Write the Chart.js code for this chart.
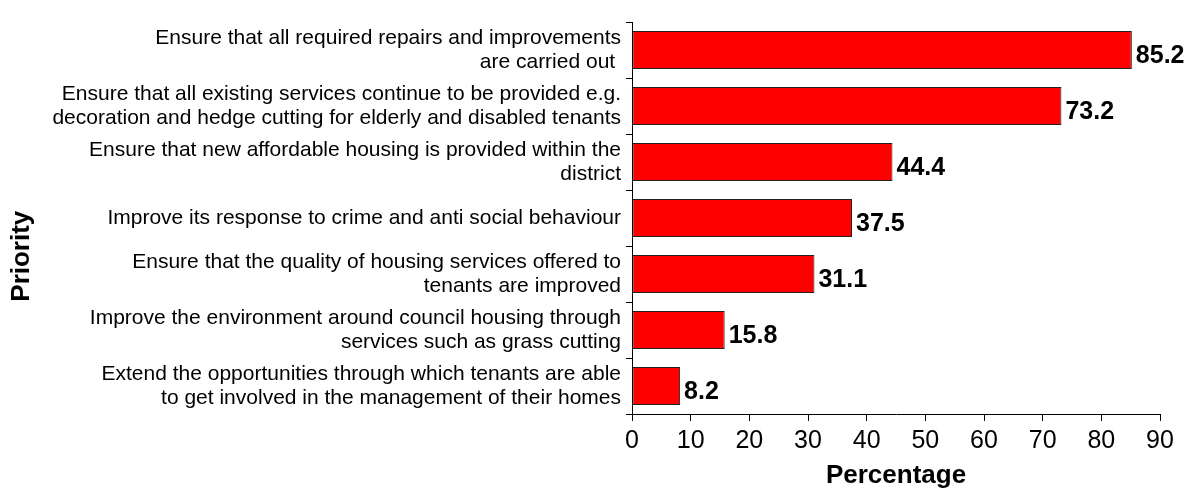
<!DOCTYPE html>
<html>
<head>
<meta charset="utf-8">
<script src="https://cdn.jsdelivr.net/npm/chart.js@4/dist/chart.umd.min.js"></script>
<style>
  html, body { margin: 0; padding: 0; background: #fff; }
  #wrap { width: 1200px; height: 488px; position: relative; }
</style>
</head>
<body>
<div id="wrap"><canvas id="bar-1"></canvas></div>
<script>
// priorities, top to bottom
var priorities = [
	["Ensure that all required repairs and improvements", "are carried out "],
	["Ensure that all existing services continue to be provided e.g.", "decoration and hedge cutting for elderly and disabled tenants"],
	["Ensure that new affordable housing is provided within the", "district"],
	"Improve its response to crime and anti social behaviour",
	["Ensure that the quality of housing services offered to", "tenants are improved"],
	["Improve the environment around council housing through", "services such as grass cutting"],
	["Extend the opportunities through which tenants are able", "to get involved in the management of their homes"]
];
var percentages = [85.2, 73.2, 44.4, 37.5, 31.1, 15.8, 8.2];
var xTicks = [0, 10, 20, 30, 40, 50, 60, 70, 80, 90];

var FONT = "Arial, 'Liberation Sans', sans-serif";

// value labels next to the bar ends
var valueLabels = {
	id: 'valueLabels',
	afterDatasetsDraw: function (chart) {
		var ctx = chart.ctx;
		var meta = chart.getDatasetMeta(0);
		ctx.save();
		ctx.font = "bold 25px " + FONT;
		ctx.fillStyle = '#000';
		ctx.textAlign = 'left';
		ctx.textBaseline = 'middle';
		meta.data.forEach(function (bar, i) {
			ctx.fillText(percentages[i].toFixed(1), bar.x + 4, bar.y + 6);
		});
		ctx.restore();
	}
};

// rotated y title, drawn in the left margin like the original
var yTitle = {
	id: 'yTitle',
	afterDraw: function (chart) {
		var ctx = chart.ctx;
		ctx.save();
		ctx.font = "bold 26px " + FONT;
		ctx.fillStyle = '#000';
		ctx.textAlign = 'center';
		ctx.textBaseline = 'middle';
		ctx.translate(22, chart.height * 0.525);
		ctx.rotate(-Math.PI / 2);
		ctx.fillText('Priority', 0, 0);
		ctx.restore();
	}
};

var ctx1 = document.getElementById("bar-1");
var barchart1 = new Chart(ctx1, {
	type: 'bar',
	data: {
		labels: priorities,
		datasets: [{
			label: 'Percentage',
			data: percentages,
			backgroundColor: '#FF0000',
			borderColor: '#222',
			borderWidth: 1,
			borderSkipped: false,
			barPercentage: 0.675,
			categoryPercentage: 1
		}]
	},
	options: {
		indexAxis: 'y',
		responsive: true,
		maintainAspectRatio: false,
		animation: false,
		layout: { padding: { top: 22, right: 40, left: 0, bottom: 0 } },
		plugins: {
			legend: { display: false },
			tooltip: { enabled: false }
		},
		scales: {
			x: {
				min: 0,
				max: 90,
				afterBuildTicks: function (scale) {
					scale.ticks = xTicks.map(function (v) { return { value: v }; });
				},
				afterFit: function (scale) { scale.height = 74; },
				grid: { drawOnChartArea: false, tickLength: 7, color: '#000' },
				border: { color: '#000', width: 1 },
				ticks: {
					color: '#000',
					padding: 5,
					maxRotation: 0,
					font: { family: FONT, size: 25 }
				},
				title: {
					display: true,
					text: 'Percentage',
					color: '#000',
					padding: { top: 0, bottom: -3 },
					font: { family: FONT, size: 26, weight: 'bold' }
				}
			},
			y: {
				afterFit: function (scale) {
					scale.width = 632;
					scale.paddingTop = 0;
					scale.paddingBottom = 0;
				},
				grid: { drawOnChartArea: false, tickLength: 6, color: '#000', offset: true },
				border: { color: '#000', width: 1 },
				ticks: {
					color: '#000',
					padding: 5,
					autoSkip: false,
					font: { family: FONT, size: 21, lineHeight: 1.15 }
				}
			}
		}
	},
	plugins: [valueLabels, yTitle]
});
</script>
</body>
</html>
